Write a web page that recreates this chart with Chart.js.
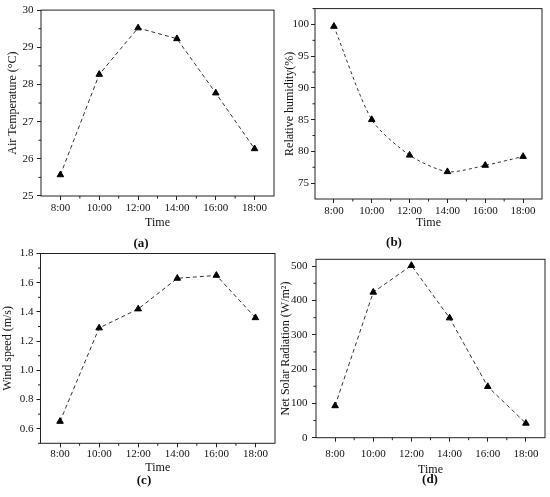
<!DOCTYPE html>
<html>
<head>
<meta charset="utf-8">
<script src="https://cdn.jsdelivr.net/npm/chart.js@4/dist/chart.umd.min.js"></script>
<style>
  body { margin: 0; background: #fff; }
  #wrap { position: relative; width: 550px; height: 497px; overflow: hidden; }
  #wrap canvas { position: absolute; left: 0; top: 0; }
  .cap { position: absolute; font: bold 13px 'Liberation Serif', serif; color: #111; transform: translate(-50%, -50%); }
</style>
</head>
<body>
<div id="wrap">
  <canvas id="ca" width="550" height="497"></canvas>
  <canvas id="cb" width="550" height="497"></canvas>
  <canvas id="cc" width="550" height="497"></canvas>
  <canvas id="cd" width="550" height="497"></canvas>
  <div class="cap" style="left:141px;top:243px">(a)</div>
  <div class="cap" style="left:394px;top:242px">(b)</div>
  <div class="cap" style="left:144px;top:480px">(c)</div>
  <div class="cap" style="left:430px;top:479px">(d)</div>
</div>
<script>
// time axis
var hours = [8, 10, 12, 14, 16, 18];
var timeLabels = ['8:00', '10:00', '12:00', '14:00', '16:00', '18:00'];
var hourMinor = [9, 11, 13, 15, 17];

// measured values
var airTemp = [25.57, 28.27, 29.52, 29.23, 27.77, 26.27];
var humidity = [99.7, 85.0, 79.4, 76.8, 77.8, 79.2];
var windSpeed = [0.65, 1.29, 1.42, 1.63, 1.65, 1.36];
var radiation = [93, 424, 502, 349, 149, 42];

// y ticks
var tempTicks = [25, 26, 27, 28, 29, 30];
var tempMinor = [25.5, 26.5, 27.5, 28.5, 29.5];
var humTicks = [75, 80, 85, 90, 95, 100];
var humMinor = [77.5, 82.5, 87.5, 92.5, 97.5, 102.5];
var windTicks = [0.6, 0.8, 1.0, 1.2, 1.4, 1.6, 1.8];
var windMinor = [0.5, 0.7, 0.9, 1.1, 1.3, 1.5, 1.7];
var radTicks = [0, 100, 200, 300, 400, 500];
var radMinor = [50, 150, 250, 350, 450];

var FONT = "'Liberation Serif', 'Times New Roman', serif";
var INK = '#222';

var frame = {
  id: 'frame',
  afterDraw: function(chart, args, o) {
    var ctx = chart.ctx, a = chart.chartArea;
    var x = chart.scales.x, y = chart.scales.y;
    ctx.save();
    ctx.strokeStyle = INK;
    ctx.lineWidth = 1;
    ctx.strokeRect(a.left, a.top, a.right - a.left, a.bottom - a.top);
    ctx.beginPath();
    o.xMinor.forEach(function(v) {
      var px = x.getPixelForValue(v);
      ctx.moveTo(px, a.bottom); ctx.lineTo(px, a.bottom + 2.5);
    });
    o.yMinor.forEach(function(v) {
      var py = y.getPixelForValue(v);
      ctx.moveTo(a.left, py); ctx.lineTo(a.left - 2.5, py);
    });
    ctx.stroke();
    ctx.restore();
  }
};

function panel(id, p) {
  var pts = hours.map(function(h, i) { return {x: h, y: p.values[i]}; });
  return new Chart(document.getElementById(id), {
    type: 'line',
    data: {
      datasets: [{
        data: pts,
        borderColor: '#333',
        borderWidth: 1,
        borderDash: p.dash,
        tension: p.tension || 0,
        pointStyle: 'triangle',
        pointRadius: 3.8,
        pointBorderWidth: 1,
        pointBackgroundColor: '#000',
        pointBorderColor: '#000'
      }]
    },
    options: {
      responsive: false,
      animation: false,
      events: [],
      layout: { padding: p.pad },
      plugins: {
        legend: { display: false },
        tooltip: { enabled: false },
        frame: { xMinor: hourMinor, yMinor: p.yMinor }
      },
      scales: {
        x: {
          type: 'linear',
          min: 7, max: 19,
          afterBuildTicks: function(s) { s.ticks = hours.map(function(v) { return {value: v}; }); },
          afterFit: function(s) { s.height = p.xh; },
          grid: { drawOnChartArea: false, tickLength: 4, color: INK, tickColor: INK },
          border: { display: false },
          ticks: {
            padding: p.xPad,
            maxRotation: 0,
            color: '#111',
            font: { family: FONT, size: 11 },
            callback: function(v) { return timeLabels[hours.indexOf(v)]; }
          },
          title: { display: true, text: 'Time', color: '#111', padding: 0, font: { family: FONT, size: 12 } }
        },
        y: {
          min: p.min, max: p.max,
          afterBuildTicks: function(s) { s.ticks = p.yTicks.map(function(v) { return {value: v}; }); },
          afterFit: function(s) { s.width = p.yw; },
          grid: { drawOnChartArea: false, tickLength: 4, color: INK, tickColor: INK },
          border: { display: false },
          ticks: {
            padding: p.yPad,
            color: '#111',
            font: { family: FONT, size: 11 },
            callback: function(v) { return p.fmt ? v.toFixed(p.fmt) : String(v); }
          },
          title: { display: true, text: p.title, color: '#111', padding: 0, font: { family: FONT, size: 12 } }
        }
      }
    },
    plugins: [frame]
  });
}

panel('ca', {
  values: airTemp, yTicks: tempTicks, yMinor: tempMinor, min: 25, max: 30,
  title: 'Air Temperature (°C)', dash: [4, 3],
  pad: { left: 5.8, top: 8, right: 276, bottom: 266.8 }, yw: 35.2, xh: 34.2, xPad: 1.5, yPad: 3.5
});
panel('cb', {
  values: humidity, yTicks: humTicks, yMinor: humMinor, min: 72.5, max: 102.5,
  title: 'Relative humidity(%)', dash: [3, 3], tension: 0.25,
  pad: { left: 282.8, top: 7, right: 8, bottom: 266.8 }, yw: 32.2, xh: 31.2, xPad: 1.5, yPad: 2
});
panel('cc', {
  values: windSpeed, yTicks: windTicks, yMinor: windMinor, min: 0.5, max: 1.8, fmt: 1,
  title: 'Wind speed (m/s)', dash: [4, 3],
  pad: { left: 0.3, top: 253.5, right: 275, bottom: 21.8 }, yw: 40.2, xh: 31.9, xPad: 0.5, yPad: 3
});
panel('cd', {
  values: radiation, yTicks: radTicks, yMinor: radMinor, min: 0, max: 520,
  title: 'Net Solar Radiation (W/m²)', dash: [4, 3],
  pad: { left: 278.8, top: 259.3, right: 4.5, bottom: 20.3 }, yw: 37.2, xh: 39, xPad: 6, yPad: 4.5
});
</script>
</body>
</html>
